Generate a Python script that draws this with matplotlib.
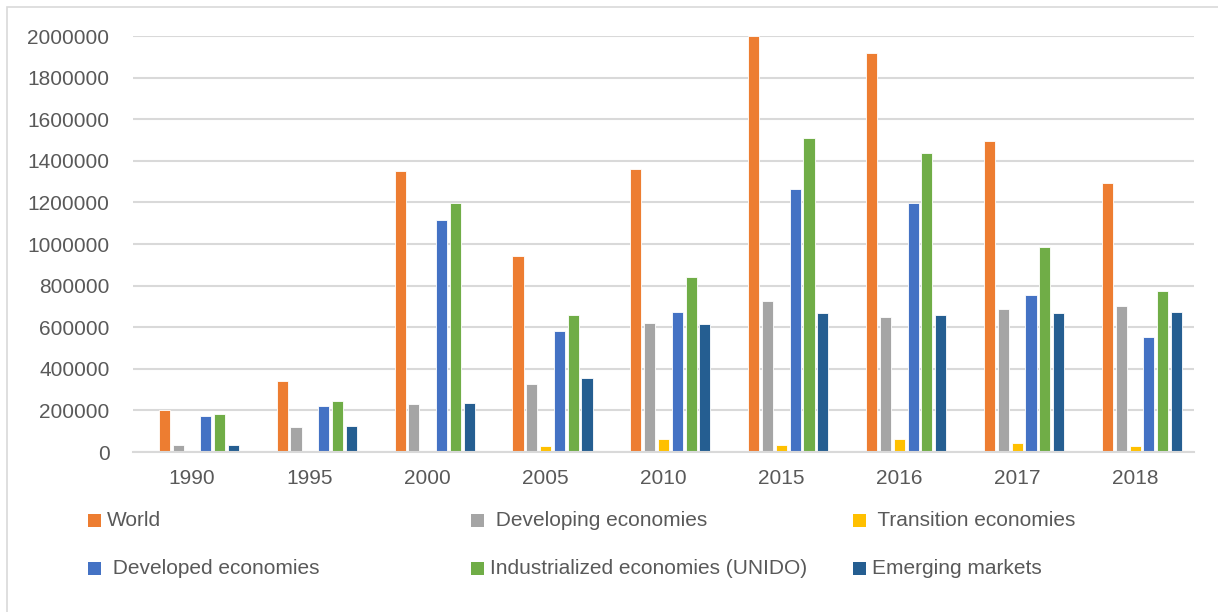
import numpy as np
import matplotlib
matplotlib.use("Agg")
import matplotlib.pyplot as plt
from matplotlib.patches import Rectangle

# values
years = ["1990", "1995", "2000", "2005", "2010", "2015", "2016", "2017", "2018"]
world = [203000, 342000, 1352000, 944000, 1362000, 2000000, 1916000, 1494000, 1293000]
developing = [35000, 118000, 229000, 328000, 618000, 724000, 651000, 688000, 703000]
transition = [0, 3000, 3000, 27000, 61000, 32000, 61000, 43000, 29000]
developed = [171000, 219000, 1116000, 583000, 675000, 1265000, 1196000, 756000, 554000]
industrialized = [182000, 245000, 1195000, 661000, 840000, 1509000, 1436000, 984000, 775000]
emerging = [35000, 125000, 234000, 354000, 616000, 666000, 658000, 669000, 674000]

series = [
    ("World", world, "#ED7D31"),
    (" Developing economies", developing, "#A5A5A5"),
    (" Transition economies", transition, "#FFC000"),
    (" Developed economies", developed, "#4472C4"),
    ("Industrialized economies (UNIDO)", industrialized, "#70AD47"),
    ("Emerging markets", emerging, "#255E91"),
]

W, H = 1218, 612
plt.rcParams["font.family"] = ["Liberation Sans", "DejaVu Sans"]
fig = plt.figure(figsize=(W / 100, H / 100), dpi=100)
fig.patches.append(Rectangle((7 / W, -0.1), 1.2, 1 - 7 / H + 0.1, transform=fig.transFigure,
                             fill=False, edgecolor="#D9D9D9", linewidth=1.2))

ax = fig.add_axes([133 / W, 1 - 452 / H, (1194 - 133) / W, (452 - 36) / H])
x = np.arange(len(years))
pitch, bw = 0.117, 0.094
for i, (name, vals, col) in enumerate(series):
    # Excel layout: seven slots per category, the first one empty
    ax.bar(x + (i - 2) * pitch, vals, bw, color=col, edgecolor="white", linewidth=0.6, zorder=2)

ax.set_xlim(-0.5, len(years) - 0.5)
ax.set_ylim(0, 2000000)
ax.set_yticks(np.arange(0, 2000001, 200000))
ax.set_yticklabels([f"{v:d}" for v in range(0, 2000001, 200000)])
ax.set_xticks(x)
ax.set_xticklabels(years)
ax.yaxis.grid(True, color="#D9D9D9", linewidth=1.5, zorder=0)
ax.set_axisbelow(True)
for s in ["top", "right", "left"]:
    ax.spines[s].set_visible(False)
ax.spines["bottom"].set_color("#D9D9D9")
ax.spines["bottom"].set_linewidth(1.5)
ax.tick_params(axis="y", length=0, pad=17, labelsize=15, labelcolor="#595959")
ax.tick_params(axis="x", length=0, pad=12, labelsize=15, labelcolor="#595959")

# legend drawn as three columns, two rows
for i, (name, vals, col) in enumerate(series):
    r, c = divmod(i, 3)
    mx = 88 + c * 382.5
    my = 520 + r * 48
    fig.patches.append(Rectangle((mx / W, 1 - (my + 6.5) / H), 13 / W, 13 / H,
                                 transform=fig.transFigure, facecolor=col, edgecolor="none"))
    fig.text((mx + 19) / W, 1 - my / H, name, fontsize=15, color="#595959",
             ha="left", va="center")

fig.savefig("out.png", dpi=100, facecolor="white")
